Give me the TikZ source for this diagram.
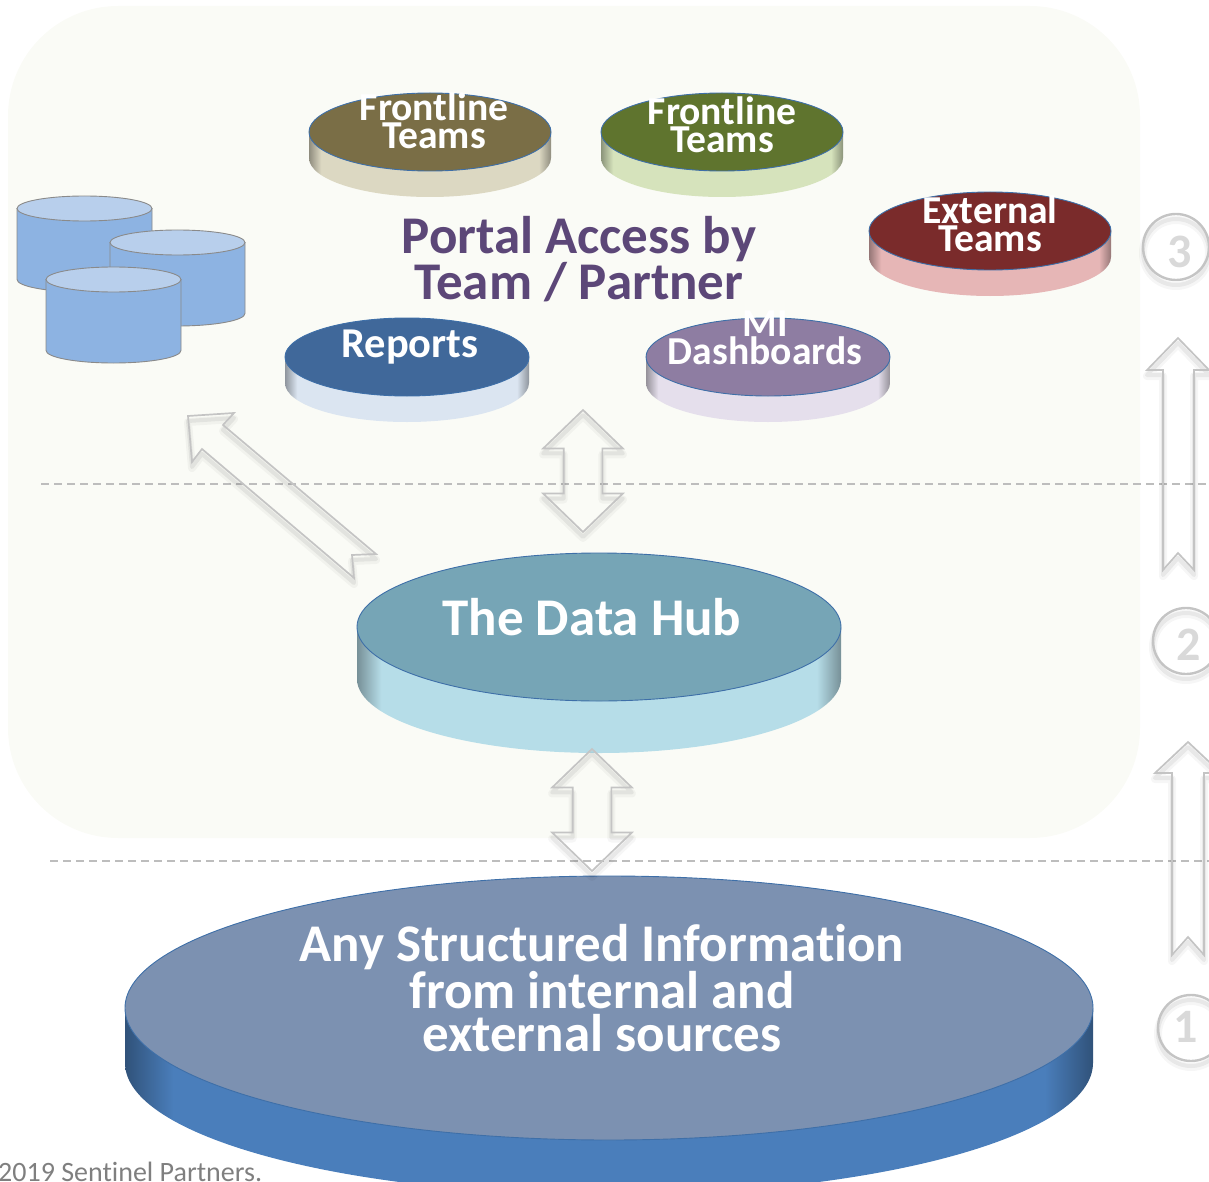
\documentclass[tikz,border=0pt]{standalone}
\usepackage{fontspec}
\setmainfont[Ligatures=NoCommon]{Carlito}
\usetikzlibrary{shapes.geometric,shapes.arrows}
\definecolor{panelbg}{HTML}{FAFBF6}
\definecolor{dashgray}{HTML}{BDBDBD}
\definecolor{arrowgray}{HTML}{C4C4C4}
\definecolor{digitgray}{HTML}{D9D9D9}
\definecolor{footgray}{HTML}{7F7F7F}
\definecolor{titlepurple}{HTML}{5C4778}
\definecolor{rimblue}{HTML}{3E6FA8}
\definecolor{dbside}{HTML}{8DB3E2}
\definecolor{dbtopcol}{HTML}{B8CFEC}
\definecolor{dbline}{HTML}{8A8A8A}
\definecolor{olivetop}{HTML}{7A6E46}
\definecolor{oliveside}{HTML}{DCD8C2}
\definecolor{greentop}{HTML}{5F742E}
\definecolor{greenside}{HTML}{D6E3BC}
\definecolor{redtop}{HTML}{7A2B2B}
\definecolor{redside}{HTML}{E6B6B6}
\definecolor{bluetop}{HTML}{40689A}
\definecolor{blueside}{HTML}{DBE5F1}
\definecolor{mauvetop}{HTML}{8E7DA2}
\definecolor{mauveside}{HTML}{E5DFEC}
\definecolor{tealtop}{HTML}{76A5B6}
\definecolor{tealside}{HTML}{B6DDE8}
\definecolor{slatetop}{HTML}{7C91B1}
\definecolor{slateside}{HTML}{4A7EBB}
\pgfdeclarehorizontalshading[platteredge,platterside]{plattershade}{100bp}{%
  color(0bp)=(platteredge); color(25bp)=(platteredge); color(27.5bp)=(platterside);
  color(72.5bp)=(platterside); color(75bp)=(platteredge); color(100bp)=(platteredge)}
\colorlet{platteredge}{black}
\colorlet{platterside}{white}
\tikzset{
  softshadow/.style={
    preaction={draw=black,opacity=.035,line width=8pt,line join=round,transform canvas={yshift=-6pt}},
    preaction={draw=black,opacity=.06,line width=4pt,line join=round,transform canvas={yshift=-5pt}}},
  blockarrow/.style={softshadow,draw=arrowgray,line width=1.7pt},
  linkarrow/.style={blockarrow,shape=double arrow,rotate=90,inner sep=0pt,outer sep=0pt,
    double arrow tip angle=92,double arrow head extend=20.5pt,double arrow head indent=0pt,
    text height=37pt,text depth=0pt,minimum width=78pt},
  stepcircle/.style={softshadow,circle,draw=arrowgray,line width=2.4pt,inner sep=0pt,minimum size=66pt},
  stepdigit/.style={text=digitgray,font=\bfseries\fontsize{48}{48}\selectfont,inner sep=0pt},
  platter/.style={ellipse,draw=rimblue,line width=.9pt,inner sep=0pt,outer sep=0pt},
  dbtop/.style={ellipse,draw=dbline,line width=.9pt,fill=dbtopcol,inner sep=0pt,outer sep=0pt,
    minimum width=135pt,minimum height=25pt},
  smalltext/.style={text=white,align=center,inner sep=0pt,font=\bfseries\fontsize{39.6}{28}\selectfont},
  bigtext/.style={text=white,align=center,inner sep=0pt,font=\bfseries\fontsize{53}{43}\selectfont},
  tierline/.style={draw=dashgray,line width=1.1pt,dash pattern=on 8pt off 5pt}
}
\begin{document}
\begin{tikzpicture}[x=1pt,y=-1pt]
  \useasboundingbox (0,0) rectangle (1209,1182);
  \fill[panelbg,rounded corners=110pt] (8,6) rectangle (1140,838);
  % dashed tiers
  \coordinate (tieraleft) at (41,484);
  \coordinate (tieraright) at (1209,484);
  \coordinate (tierbleft) at (50,861);
  \coordinate (tierbright) at (1209,861);
  \draw[tierline] (tieraleft) -- (tieraright);
  \draw[tierline] (tierbleft) -- (tierbright);
  % databases
  \foreach \name/\cx/\cy in {dbleft/84.5/208.5,dbright/177.5/242.5,dbfront/113.5/279.5} {%
    \draw[fill=dbside,draw=dbline,line width=.9pt] (\cx-67.5,\cy) -- ++(0,71)
      arc[start angle=180,end angle=0,x radius=67.5,y radius=12.5] -- ++(0,-71) -- cycle;
    \node[dbtop] (\name) at (\cx,\cy) {};
  }
  % platters
  \foreach \name/\cx/\cy/\rx/\ry/\dep/\topcol/\sidecol in {%
    frontlinea/430/132/121/39/26/olivetop/oliveside,
    frontlineb/722/132/121/39/26/greentop/greenside,
    externalteams/990/231/121/39/26/redtop/redside,
    reports/407/357/122/39/26/bluetop/blueside,
    dashboards/768/357/122/39/26/mauvetop/mauveside,
    datahub/599/627/242/74/52/tealtop/tealside,
    sources/609/1008/484/132/55/slatetop/slateside} {%
    \colorlet{platteredge}{\sidecol!65!black}
    \colorlet{platterside}{\sidecol}
    \shade[shading=plattershade] (\cx-\rx,\cy) -- ++(0,\dep)
      arc[start angle=180,end angle=0,x radius=\rx,y radius=\ry] -- ++(0,-\dep) -- cycle;
    \node[platter,fill=\topcol,minimum width=2*\rx,minimum height=2*\ry] (\name) at (\cx,\cy) {};
  }
  \node[smalltext] (frontlineatext) at (434,120.5) {Frontline\\Teams};
  \node[smalltext] (frontlinebtext) at (722,124.5) {Frontline\\Teams};
  \node[smalltext] (externaltext) at (990,224) {External\\Teams};
  \node[smalltext,font=\bfseries\fontsize{42.5}{28}\selectfont] (reportstext) at (410,347) {Reports};
  \node[smalltext] (dashboardstext) at (765,338) {MI\\Dashboards};
  \node[bigtext,text=titlepurple] (portaltitle) at (579,259) {Portal Access by\\Team / Partner};
  \node[bigtext] (hubtext) at (592,617) {The Data Hub};
  \node[bigtext] (sourcestext) at (602,988) {Any Structured Information\\from internal and\\external sources};
  \node[anchor=west,inner sep=0pt,text=footgray,font=\fontsize{28}{28}\selectfont] (footnote) at (-2,1172) {2019 Sentinel Partners.};
  % block arrows
  \draw[blockarrow] (188,416) -- (234,413) -- (223,425) -- (376,554) -- (352,555) -- (354,578) -- (202,449) -- (192,462) -- cycle;
  \draw[blockarrow] (1178,338) -- (1209,370) -- (1194,370) -- (1194,570) -- (1178,553) -- (1163,570) -- (1163,370) -- (1147,370) -- cycle;
  \draw[blockarrow] (1188,742) -- (1221,773) -- (1204,773) -- (1204,955) -- (1188,937) -- (1172,955) -- (1172,773) -- (1155,773) -- cycle;
  \node[linkarrow,minimum height=122pt] (portallink) at (583,471) {};
  \node[linkarrow,minimum height=122pt] (sourcelink) at (592,810) {};
  % steps
  \foreach \name/\cx/\cy/\dx/\dy/\num in {stepthree/1176/247/1180/252/3,steptwo/1186/641/1189/645/2,stepone/1191/1028/1186/1027/1} {%
    \node[stepcircle] (\name) at (\cx,\cy) {};
    \node[stepdigit] (\name digit) at (\dx,\dy) {\num};
  }
\end{tikzpicture}
\end{document}
